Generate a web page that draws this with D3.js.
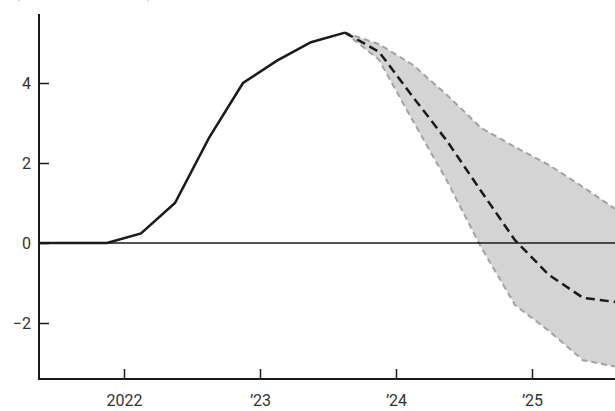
<!DOCTYPE html>
<html>
<head>
<meta charset="utf-8">
<script src="https://cdn.jsdelivr.net/npm/d3@7"></script>
<style>
  html, body { margin: 0; padding: 0; background: #fff; }
  svg { display: block; font-family: Roboto, "Noto Sans", sans-serif; }
</style>
</head>
<body>
<svg id="chart" width="615" height="411"></svg>
<script>
// Quarter midpoints (decimal years)
const actualDates = [2021.375, 2021.625, 2021.875, 2022.125, 2022.375, 2022.625, 2022.875, 2023.125, 2023.375, 2023.625];
const actualValues = [0, 0, 0, 0.24, 1.0, 2.63, 4.0, 4.56, 5.02, 5.26];

const forecastDates = [2023.625, 2023.875, 2024.125, 2024.375, 2024.625, 2024.875, 2025.125, 2025.375, 2025.625];
const forecastMedian = [5.26, 4.78, 3.65, 2.55, 1.3, 0.07, -0.8, -1.37, -1.48];
const forecastUpper  = [5.26, 4.97, 4.45, 3.7, 2.88, 2.4, 1.95, 1.4, 0.82];
const forecastLower  = [5.26, 4.58, 3.05, 1.55, -0.1, -1.55, -2.2, -2.93, -3.1];

const xTickValues = [2022, 2023, 2024, 2025];
const xTickLabels = ["2022", "\u201923", "\u201924", "\u201925"];
const yTickValues = [-2, 0, 2, 4];
const unitLabel = "(percentage points)";

const svg = d3.select("#chart");
const x = d3.scaleLinear().domain([2021.375, 2025.625]).range([39, 617]);
const y = d3.scaleLinear().domain([-3.4, 5.7]).range([379, 15]);

const fc = forecastDates.map((d, i) => ({ d, m: forecastMedian[i], u: forecastUpper[i], l: forecastLower[i] }));
const act = actualDates.map((d, i) => ({ d, v: actualValues[i] }));

// band
svg.append("path")
  .datum(fc)
  .attr("fill", "#d4d4d4")
  .attr("d", d3.area().x(p => x(p.d)).y0(p => y(p.l)).y1(p => y(p.u)));

["u", "l"].forEach(k => {
  svg.append("path")
    .datum(fc)
    .attr("fill", "none")
    .attr("stroke", "#a3a3a3")
    .attr("stroke-width", 2)
    .attr("stroke-dasharray", "6,4")
    .attr("d", d3.line().x(p => x(p.d)).y(p => y(p[k])));
});

// zero line
svg.append("line")
  .attr("x1", x.range()[0]).attr("x2", 615)
  .attr("y1", y(0)).attr("y2", y(0))
  .attr("stroke", "#1a1a1a").attr("stroke-width", 1.5);

// actual line
svg.append("path")
  .datum(act)
  .attr("fill", "none")
  .attr("stroke", "#1a1a1a")
  .attr("stroke-width", 2.5)
  .attr("stroke-linejoin", "miter")
  .attr("d", d3.line().x(p => x(p.d)).y(p => y(p.v)));

// median forecast
svg.append("path")
  .datum(fc)
  .attr("fill", "none")
  .attr("stroke", "#1a1a1a")
  .attr("stroke-width", 2.5)
  .attr("stroke-dasharray", "9,5")
  .attr("d", d3.line().x(p => x(p.d)).y(p => y(p.m)));

// axes
const yAxis = d3.axisLeft(y).tickValues(yTickValues).tickSize(-10).tickPadding(8)
  .tickFormat(d => d < 0 ? "\u2212" + Math.abs(d) : String(d));
const gy = svg.append("g").attr("transform", `translate(${x.range()[0]},0)`).call(yAxis);
gy.select(".domain").remove();
gy.selectAll(".tick line").attr("stroke", "#1a1a1a").attr("stroke-width", 1.5);
gy.selectAll(".tick text").attr("fill", "#333").style("font-size", "16px").style("font-family", "Roboto");
svg.append("line").attr("x1", 39).attr("x2", 39).attr("y1", 14).attr("y2", 379)
  .attr("stroke", "#1a1a1a").attr("stroke-width", 2);

const xAxis = d3.axisBottom(x).tickValues(xTickValues).tickSize(-10).tickPadding(16)
  .tickFormat((d, i) => xTickLabels[i]);
const gx = svg.append("g").attr("transform", `translate(0,${y.range()[0]})`).call(xAxis);
gx.select(".domain").remove();
gx.selectAll(".tick line").attr("stroke", "#1a1a1a").attr("stroke-width", 1.5);
gx.selectAll(".tick text").attr("fill", "#333").style("font-size", "16px").style("font-family", "Roboto");
svg.append("line").attr("x1", 38).attr("x2", 615).attr("y1", 379).attr("y2", 379)
  .attr("stroke", "#1a1a1a").attr("stroke-width", 2);

svg.append("text").attr("x", 14).attr("y", -3.5).attr("fill", "#333")
  .style("font-size", "16px").style("font-family", "Roboto").text(unitLabel);
</script>
</body>
</html>
